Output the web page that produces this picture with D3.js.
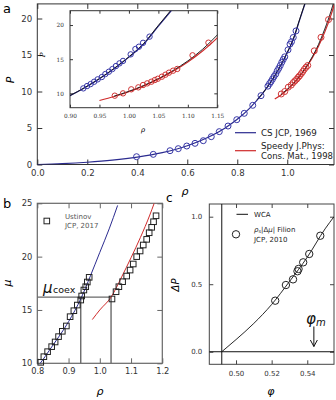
<!DOCTYPE html>
<html><head><meta charset="utf-8">
<script src="https://cdn.jsdelivr.net/npm/d3@7"></script>
<style>body{margin:0;background:#fff}svg{display:block}</style>
</head><body>
<svg width="336" height="400"></svg>
<script>
// ---- panel a : equation of state ----
var csRho = [0, 0.1, 0.2, 0.3, 0.4, 0.5, 0.6, 0.7, 0.75, 0.8, 0.85, 0.9, 0.925, 0.95, 0.975, 1.0, 1.025, 1.05, 1.075];
var csP   = [0, 0.12, 0.31, 0.59, 1.01, 1.63, 2.57, 4.0, 4.98, 6.2, 7.73, 9.67, 10.83, 12.14, 13.62, 15.3, 17.21, 19.85, 22.42];
var speedyRho = [0.95, 0.975, 1.0, 1.025, 1.05, 1.075, 1.1, 1.125, 1.15, 1.175, 1.2];
var speedyP   = [8.96, 9.53, 10.24, 11.09, 12.08, 13.23, 14.59, 16.2, 18.13, 20.47, 23.36];
var fluidFitRho = [0.88, 0.9, 0.925, 0.95, 0.975, 1.0, 1.025, 1.05, 1.075];
var fluidFitP   = [8.9, 9.68, 10.85, 12.16, 13.66, 15.35, 17.3, 19.95, 22.55];
var solidFitRho = [0.975, 1.0, 1.025, 1.05, 1.075, 1.1, 1.125, 1.15, 1.175, 1.2];
var solidFitP   = [9.6, 10.3, 11.15, 12.15, 13.35, 14.75, 16.45, 18.55, 21.0, 24.0];
var fluidRho = [0.397, 0.464, 0.531, 0.564, 0.598, 0.631, 0.664, 0.696, 0.728, 0.763, 0.798, 0.828, 0.862, 0.895,
                0.9226, 0.929, 0.935, 0.941, 0.947, 0.954, 0.960, 0.966, 0.972, 0.978, 0.984, 0.990, 1.003, 1.011, 1.017, 1.024, 1.035];
var fluidP   = [1.07, 1.39, 1.89, 2.17, 2.53, 2.9, 3.26, 3.81, 4.5, 5.27, 6.14, 7.01, 8.11, 9.43,
                10.73, 11.07, 11.36, 11.7, 12.05, 12.39, 12.83, 13.17, 13.56, 14.0, 14.39, 14.75, 15.71, 16.49, 16.83, 17.4, 18.3];
var solidRho = [0.976, 0.990, 1.004, 1.016, 1.024, 1.031, 1.038, 1.044, 1.049, 1.056, 1.062, 1.068, 1.075, 1.082, 1.108, 1.135, 1.165];
var solidP   = [9.66, 10.0, 10.59, 10.88, 11.22, 11.46, 11.7, 11.95, 12.14, 12.44, 12.73, 13.03, 13.32, 13.57, 15.57, 17.42, 19.85];
var aXTicks = [0, 0.2, 0.4, 0.6, 0.8, 1.0];
var aYTicks = [0, 5, 10, 15, 20];
var inXTicks = [0.90, 0.95, 1.00, 1.05, 1.10, 1.15];
var inYTicks = [10, 15, 20];

// ---- panel b : chemical potential ----
var fluidMuRho = [0.79, 0.80, 0.85, 0.90, 0.94, 0.97, 1.00, 1.03, 1.057];
var fluidMu    = [9.3, 9.65, 11.7, 13.9, 16.1, 18.2, 20.4, 22.6, 24.8];
var solidMuRho = [0.976, 1.00, 1.036, 1.07, 1.10, 1.13, 1.16, 1.174];
var solidMu    = [14.1, 15.0, 16.2, 18.1, 19.9, 21.8, 23.9, 25.0];
var ustFRho = [0.811, 0.821, 0.833, 0.846, 0.857, 0.868, 0.880, 0.893, 0.905, 0.917, 0.928, 0.939, 0.942, 0.949, 0.955, 0.960, 0.966];
var ustFMu  = [10.09, 10.62, 11.09, 11.56, 12.0, 12.5, 13.0, 13.5, 14.37, 14.93, 15.46, 15.93, 16.31, 16.87, 17.18, 17.62, 18.06];
var ustSRho = [1.039, 1.052, 1.061, 1.073, 1.086, 1.097, 1.107, 1.118, 1.129, 1.139, 1.150, 1.158, 1.166, 1.172, 1.180];
var ustSMu  = [16.03, 16.71, 17.18, 17.65, 18.18, 18.74, 19.31, 20.0, 20.53, 21.09, 21.62, 22.24, 22.75, 23.27, 23.83];
var coexMu = 16.2, coexRhoF = 0.939, coexRhoS = 1.036;
var bXTicks = [0.8, 0.9, 1.0, 1.1, 1.2];
var bYTicks = [10, 15, 20, 25];

// ---- panel c : pressure difference ----
var wcaPhi = [0.492, 0.50, 0.51, 0.52, 0.53, 0.54, 0.55, 0.555];
var wcaDP  = [0, 0.09, 0.21, 0.35, 0.52, 0.70, 0.91, 1.0];
var filionPhi = [0.522, 0.528, 0.532, 0.5345, 0.5351, 0.5377, 0.5411, 0.5473];
var filionDP  = [0.378, 0.494, 0.536, 0.596, 0.613, 0.662, 0.724, 0.859];
var phiFreeze = 0.492, phiMelt = 0.5437;
var cXTicks = [0.50, 0.52, 0.54];
var cYTicks = [0.0, 0.5, 1.0];

var svg = d3.select('svg');
var FONT = 'DejaVu Sans';

function zip(a, b) { return a.map(function (v, i) { return [v, b[i]]; }); }

// frame with inward ticks on all four sides
function box(g, x, y, xt, yt, o) {
  var x0 = x.range()[0], x1 = x.range()[1], y0 = y.range()[0], y1 = y.range()[1];
  var ax = [
    [d3.axisBottom(x).tickValues(xt).tickFormat(o.xf), 'translate(0,' + y0 + ')'],
    [d3.axisTop(x).tickValues(xt).tickFormat(''), 'translate(0,' + y1 + ')'],
    [d3.axisLeft(y).tickValues(yt).tickFormat(o.yf), 'translate(' + x0 + ',0)'],
    [d3.axisRight(y).tickValues(yt).tickFormat(''), 'translate(' + x1 + ',0)']
  ];
  ax.forEach(function (a) {
    var s = g.append('g').attr('transform', a[1])
      .call(a[0].tickSizeInner(-o.ts).tickSizeOuter(0).tickPadding(o.pad));
    s.select('.domain').remove();
    s.selectAll('line').attr('stroke', o.col).attr('stroke-width', 1);
    s.attr('font-family', o.ff || FONT).attr('font-size', o.fs);
    s.selectAll('text').attr('fill', '#333');
  });
  g.append('rect').attr('x', x0).attr('y', y1).attr('width', x1 - x0).attr('height', y0 - y1)
    .attr('fill', 'none').attr('stroke', o.col).attr('stroke-width', o.sw || 1);
}

function clip(id, x, y) {
  svg.append('clipPath').attr('id', id).append('rect')
    .attr('x', x.range()[0]).attr('y', y.range()[1])
    .attr('width', x.range()[1] - x.range()[0]).attr('height', y.range()[0] - y.range()[1]);
}

function curve(g, x, y, xs, ys, col, w, cl) {
  g.append('path').datum(zip(xs, ys))
    .attr('d', d3.line().x(function (d) { return x(d[0]); }).y(function (d) { return y(d[1]); }).curve(d3.curveMonotoneX))
    .attr('fill', 'none').attr('stroke', col).attr('stroke-width', w).attr('clip-path', 'url(#' + cl + ')');
}

function rings(g, x, y, xs, ys, col, r) {
  g.selectAll(null).data(zip(xs, ys)).enter().append('circle')
    .attr('cx', function (d) { return x(d[0]); }).attr('cy', function (d) { return y(d[1]); })
    .attr('r', r).attr('fill', 'none').attr('stroke', col).attr('stroke-width', 1);
}

var BLUE = '#2b2b8f', RED = '#cf2a2a', CBLUE = '#3838a8', CRED = '#d03535';

// ================= panel a =================
var xa = d3.scaleLinear().domain([0, 1.187]).range([37.3, 334]);
var ya = d3.scaleLinear().domain([0, 22]).range([164.5, 3.9]);
var ga = svg.append('g');
clip('ca', xa, ya);
box(ga, xa, ya, aXTicks, aYTicks, {ts: 5, pad: 5, fs: 8.6, col: '#333', xf: d3.format('.1f'), yf: d3.format('d')});
curve(ga, xa, ya, csRho, csP, BLUE, 1.2, 'ca');
curve(ga, xa, ya, speedyRho, speedyP, RED, 1.2, 'ca');
curve(ga, xa, ya, fluidFitRho, fluidFitP, '#111', 0.9, 'ca');
curve(ga, xa, ya, solidFitRho, solidFitP, '#111', 0.9, 'ca');
rings(ga, xa, ya, fluidRho, fluidP, CBLUE, 3);
rings(ga, xa, ya, solidRho, solidP, CRED, 3);

ga.append('text').attr('x', 3).attr('y', 13).attr('font-family', FONT).attr('font-size', 13).text('a');
ga.append('text').attr('transform', 'translate(14,80) rotate(-90)').attr('text-anchor', 'middle')
  .attr('font-family', FONT).attr('font-style', 'italic').attr('font-size', 11).text('P');
ga.append('text').attr('x', 185).attr('y', 195).attr('text-anchor', 'middle')
  .attr('font-family', FONT).attr('font-style', 'italic').attr('font-size', 11).text('ρ');

// legend a
ga.append('line').attr('x1', 235).attr('x2', 256).attr('y1', 132.7).attr('y2', 132.7).attr('stroke', BLUE).attr('stroke-width', 1.2);
ga.append('line').attr('x1', 235).attr('x2', 256).attr('y1', 150.7).attr('y2', 150.7).attr('stroke', RED).attr('stroke-width', 1.2);
var lg = ga.append('g').attr('font-family', FONT).attr('font-size', 8.7).attr('fill', '#222');
lg.append('text').attr('x', 261).attr('y', 136).text('CS JCP, 1969');
lg.append('text').attr('x', 261).attr('y', 149).text('Speedy J.Phys:');
lg.append('text').attr('x', 261).attr('y', 158.5).attr('textLength', 72).attr('lengthAdjust', 'spacingAndGlyphs').text('Cons. Mat., 1998');

// inset
var xi = d3.scaleLinear().domain([0.9, 1.15]).range([70, 217.3]);
var yi = d3.scaleLinear().domain([7.9, 22.1]).range([107.7, 10.7]);
var gi = svg.append('g');
clip('ci', xi, yi);
gi.append('rect').attr('x', 70).attr('y', 10.7).attr('width', 147.3).attr('height', 97).attr('fill', '#fff');
box(gi, xi, yi, inXTicks, inYTicks, {ts: 3, pad: 6, fs: 5.8, ff: 'DejaVu Serif', col: '#333', xf: d3.format('.2f'), yf: d3.format('d')});
curve(gi, xi, yi, csRho, csP, BLUE, 1.2, 'ci');
curve(gi, xi, yi, speedyRho, speedyP, RED, 1.1, 'ci');
curve(gi, xi, yi, fluidFitRho, fluidFitP, '#111', 0.9, 'ci');
curve(gi, xi, yi, solidFitRho, solidFitP, '#111', 0.9, 'ci');
var inF = fluidRho.map(function (v, i) { return i; }).filter(function (i) { return fluidRho[i] >= 0.9 && fluidRho[i] <= 1.15; });
rings(gi, xi, yi, inF.map(function (i) { return fluidRho[i]; }), inF.map(function (i) { return fluidP[i]; }), CBLUE, 2.7);
var inS = solidRho.map(function (v, i) { return i; }).filter(function (i) { return solidRho[i] <= 1.15; });
rings(gi, xi, yi, inS.map(function (i) { return solidRho[i]; }), inS.map(function (i) { return solidP[i]; }), CRED, 2.7);
gi.append('text').attr('transform', 'translate(45,55) rotate(-90)').attr('text-anchor', 'middle')
  .attr('font-family', 'DejaVu Serif').attr('font-style', 'italic').attr('font-size', 7).text('P');
gi.append('text').attr('x', 143).attr('y', 132).attr('text-anchor', 'middle')
  .attr('font-family', 'DejaVu Serif').attr('font-style', 'italic').attr('font-size', 7).text('ρ');

// ================= panel b =================
var xb = d3.scaleLinear().domain([0.8, 1.2]).range([37.3, 162.3]);
var yb = d3.scaleLinear().domain([10, 25]).range([363.3, 203.3]);
var gb = svg.append('g');
clip('cb', xb, yb);
box(gb, xb, yb, bXTicks, bYTicks, {ts: 5, pad: 5, fs: 8.3, col: '#666', sw: 1.2, xf: d3.format('.1f'), yf: d3.format('d')});
// coexistence construction
gb.append('path')
  .attr('d', 'M' + xb(0.8) + ',' + yb(coexMu) + 'H' + xb(coexRhoS) + 'V' + yb(10) +
             'M' + xb(coexRhoF) + ',' + yb(coexMu) + 'V' + yb(10))
  .attr('fill', 'none').attr('stroke', '#6a6a6a').attr('stroke-width', 1.4);
curve(gb, xb, yb, fluidMuRho, fluidMu, BLUE, 1, 'cb');
curve(gb, xb, yb, solidMuRho, solidMu, RED, 1, 'cb');
function squares(g, xs, ys) {
  g.selectAll(null).data(zip(xs, ys)).enter().append('rect')
    .attr('x', function (d) { return xb(d[0]) - 2.8; }).attr('y', function (d) { return yb(d[1]) - 2.8; })
    .attr('width', 5.6).attr('height', 5.6).attr('fill', 'none').attr('stroke', '#222').attr('stroke-width', 1);
}
squares(gb, ustFRho, ustFMu);
squares(gb, ustSRho, ustSMu);
gb.append('text').attr('x', 3).attr('y', 208).attr('font-family', FONT).attr('font-size', 13).text('b');
gb.append('text').attr('transform', 'translate(11,283) rotate(-90)').attr('text-anchor', 'middle')
  .attr('font-family', FONT).attr('font-style', 'italic').attr('font-size', 11).text('μ');
gb.append('text').attr('x', 100).attr('y', 395).attr('text-anchor', 'middle')
  .attr('font-family', FONT).attr('font-style', 'italic').attr('font-size', 11).text('ρ');
var mc = gb.append('text').attr('x', 43).attr('y', 293).attr('font-family', FONT).attr('fill', '#111');
mc.append('tspan').attr('font-style', 'italic').attr('font-size', 15).text('μ');
mc.append('tspan').attr('font-size', 9.5).attr('dx', 0.5).text('coex');
// legend b
gb.append('rect').attr('x', 44).attr('y', 218.2).attr('width', 5.6).attr('height', 5.6)
  .attr('fill', 'none').attr('stroke', '#222');
var lb = gb.append('g').attr('font-family', FONT).attr('font-size', 7).attr('fill', '#555');
lb.append('text').attr('x', 65).attr('y', 218.5).text('Ustinov');
lb.append('text').attr('x', 65).attr('y', 227.5).text('JCP, 2017');

// ================= panel c =================
var xc = d3.scaleLinear().domain([0.485, 0.555]).range([209.3, 334]);
var yc = d3.scaleLinear().domain([-0.093, 1.094]).range([364.3, 204]);
var gc = svg.append('g');
clip('cc', xc, yc);
box(gc, xc, yc, cXTicks, cYTicks, {ts: 4, pad: 7, fs: 7, col: '#444', xf: d3.format('.2f'), yf: d3.format('.1f')});
gc.append('line').attr('x1', xc(0.485)).attr('x2', xc(0.555)).attr('y1', yc(0)).attr('y2', yc(0))
  .attr('stroke', '#111').attr('stroke-width', 1);
gc.append('line').attr('x1', xc(phiFreeze)).attr('x2', xc(phiFreeze)).attr('y1', yc(-0.093)).attr('y2', yc(1.094))
  .attr('stroke', '#111').attr('stroke-width', 1);
curve(gc, xc, yc, wcaPhi, wcaDP, '#111', 0.9, 'cc');
rings(gc, xc, yc, filionPhi, filionDP, '#222', 3.7);
// melting arrow
var ax = xc(phiMelt);
gc.append('path').attr('d', 'M' + ax + ',326.5V346.5M' + (ax - 3.5) + ',340L' + ax + ',346.5L' + (ax + 3.5) + ',340')
  .attr('fill', 'none').attr('stroke', '#111').attr('stroke-width', 1);
var pm = gc.append('text').attr('x', 306).attr('y', 324).attr('font-family', FONT).attr('font-style', 'italic').attr('fill', '#111');
pm.append('tspan').attr('font-size', 15).text('φ');
pm.append('tspan').attr('font-size', 10).attr('dy', 2).text('m');
gc.append('text').attr('x', 166).attr('y', 202).attr('font-family', FONT).attr('font-size', 12).text('c');
gc.append('text').attr('transform', 'translate(179,285) rotate(-90)').attr('text-anchor', 'middle')
  .attr('font-family', FONT).attr('font-style', 'italic').attr('font-size', 10).text('ΔP');
gc.append('text').attr('x', 271).attr('y', 395).attr('text-anchor', 'middle')
  .attr('font-family', FONT).attr('font-style', 'italic').attr('font-size', 11).text('φ');
// legend c
gc.append('line').attr('x1', 236.5).attr('x2', 248).attr('y1', 214.3).attr('y2', 214.3).attr('stroke', '#111');
gc.append('circle').attr('cx', 236).attr('cy', 234.3).attr('r', 3.7).attr('fill', 'none').attr('stroke', '#222');
var lc = gc.append('g').attr('font-family', FONT).attr('font-size', 7).attr('fill', '#222');
lc.append('text').attr('x', 254).attr('y', 216.8).text('WCA');
var t2 = lc.append('text').attr('x', 254).attr('y', 231.5);
t2.append('tspan').attr('font-style', 'italic').text('ρ');
t2.append('tspan').attr('font-size', 5).attr('dy', 1.5).text('s');
t2.append('tspan').attr('dy', -1.5).text('|Δ');
t2.append('tspan').attr('font-style', 'italic').text('μ');
t2.append('tspan').text('| Filion');
lc.append('text').attr('x', 254).attr('y', 241.7).text('JCP, 2010');
</script>
</body></html>
